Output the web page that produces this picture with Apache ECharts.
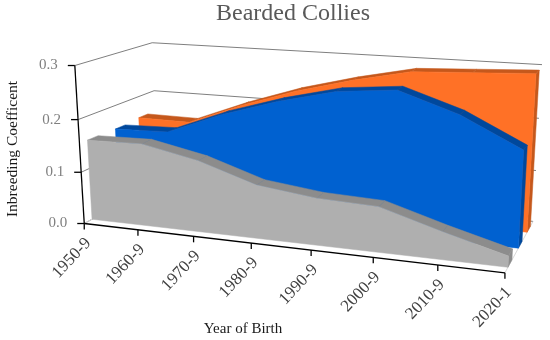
<!DOCTYPE html>
<html>
<head>
<meta charset="utf-8">
<style>html,body{margin:0;padding:0;background:#fff}#c{width:550px;height:340px}</style>
<script src="https://cdn.jsdelivr.net/npm/echarts@6/dist/echarts.min.js"></script>
</head>
<body>
<div id="c"></div>
<script>
const categories = ['1950-9','1960-9','1970-9','1980-9','1990-9','2000-9','2010-9','2020-1'];
const yTicks = [0, 0.1, 0.2, 0.3];
const greyValues   = [0.155, 0.157, 0.135, 0.100, 0.087, 0.083, 0.050, 0.020];
const blueValues   = [0.154, 0.157, 0.199, 0.232, 0.258, 0.268, 0.232, 0.178];
const orangeValues = [0.157, 0.156, 0.198, 0.234, 0.262, 0.285, 0.290, 0.295];

// Oblique camera: [u, w, depth] -> screen, u/w being the position in the plain grid
const cameraAnchors = [
  [0,0,0, 84,222],[1,0,0, 505,274],[0,1,0, 75,66],[0,0,1, 158,185],
  [1,0,1, 533,220],[1,1,1, 542,65],[0,1,1, 152,42]
];
function solveCamera(a){
  const rows=[],rhs=[];
  a.forEach(([x,y,z,sx,sy])=>{
    rows.push([x,y,z,1,0,0,0,0,-sx*x,-sx*y,-sx*z]);rhs.push(sx);
    rows.push([0,0,0,0,x,y,z,1,-sy*x,-sy*y,-sy*z]);rhs.push(sy);
  });
  const n=11,M=[];
  for(let i=0;i<n;i++){M.push([]);for(let j=0;j<=n;j++){let s=0;
    rows.forEach((r,k)=>{s+=r[i]*(j<n?r[j]:rhs[k]);});M[i].push(s);}}
  for(let i=0;i<n;i++){
    let p=i;for(let k=i+1;k<n;k++)if(Math.abs(M[k][i])>Math.abs(M[p][i]))p=k;
    [M[i],M[p]]=[M[p],M[i]];
    for(let k=0;k<n;k++){if(k===i)continue;const f=M[k][i]/M[i][i];
      for(let j=i;j<=n;j++)M[k][j]-=f*M[i][j];}
  }
  return M.map((r,i)=>r[n]/r[i]);
}
const cam = solveCamera(cameraAnchors);
const W=550,H=340;
function project(api,i,v,z){
  const c=api.coord([i,v]);const u=c[0]/W,w=1-c[1]/H;
  const d=cam[8]*u+cam[9]*w+cam[10]*z+1;
  return [(cam[0]*u+cam[1]*w+cam[2]*z+cam[3])/d,(cam[4]*u+cam[5]*w+cam[6]*z+cam[7])/d];
}
const last=categories.length-1;
const poly=(pts,fill)=>({type:'polygon',shape:{points:pts},style:{fill,stroke:fill,lineWidth:0.5}});
const line=(a,b,stroke,lineWidth)=>({type:'line',shape:{x1:a[0],y1:a[1],x2:b[0],y2:b[1]},style:{stroke,lineWidth,fill:null}});

function areaSeries(name,values,z1,z2,face,dark){
  return {type:'custom',name,coordinateSystem:'cartesian2d',data:[0],silent:true,
    renderItem(p,api){
      const kids=[];
      for(let i=0;i<last;i++){
        kids.push(poly([project(api,i,values[i],z1),project(api,i+1,values[i+1],z1),
                        project(api,i+1,values[i+1],z2),project(api,i,values[i],z2)],dark));
      }
      kids.push(poly([project(api,last,values[last],z1),project(api,last,values[last],z2),
                      project(api,last,0,z2),project(api,last,0,z1)],dark));
      const pts=values.map((v,i)=>project(api,i,v,z1));
      pts.push(project(api,last,0,z1),project(api,0,0,z1));
      kids.push(poly(pts,face));
      return {type:'group',children:kids};
    }};
}
const wallSeries={type:'custom',coordinateSystem:'cartesian2d',data:[0],silent:true,
  renderItem(p,api){
    const kids=[];
    yTicks.forEach(t=>{
      kids.push(line(project(api,0,t,0),project(api,0,t,1),'#7f7f7f',1));
      kids.push(line(project(api,0,t,1),project(api,last,t,1),'#7f7f7f',1));
    });
    kids.push(line(project(api,0,0,0),project(api,0,0,1),'#d9d9d9',1));
    kids.push(line(project(api,last,0,0),project(api,last,0,1),'#d9d9d9',1));
    return {type:'group',children:kids};
  }};
const axisSeries={type:'custom',coordinateSystem:'cartesian2d',data:[0],silent:true,
  renderItem(p,api){
    const kids=[];
    kids.push(line(project(api,0,0,0),project(api,0,yTicks[yTicks.length-1],0),'#000',1.3));
    kids.push(line(project(api,0,0,0),project(api,last,0,0),'#000',1.3));
    yTicks.forEach(t=>{
      const a=project(api,0,t,0);
      kids.push(line([a[0]-7,a[1]],a,'#000',1.3));
      kids.push({type:'text',x:a[0]-17,y:a[1],style:{text:t.toFixed(1),align:'right',verticalAlign:'middle',
        font:'15px "Liberation Serif"',fill:'#7f7f7f'}});
    });
    categories.forEach((c,i)=>{
      const a=project(api,i,0,0);
      kids.push(line(a,[a[0],a[1]+6],'#000',1.3));
      kids.push({type:'text',x:a[0]+4,y:a[1]+17,rotation:Math.PI*0.26,style:{text:c,align:'right',verticalAlign:'middle',
        font:'17px "Liberation Serif"',fill:'#404040'}});
    });
    kids.push({type:'text',x:13,y:149,rotation:Math.PI/2,style:{text:'Inbreeding Coefficent',align:'center',verticalAlign:'middle',
      font:'15.5px "Liberation Serif"',fill:'#1a1a1a'}});
    kids.push({type:'text',x:243,y:329,style:{text:'Year of Birth',align:'center',verticalAlign:'middle',
      font:'15px "Liberation Serif"',fill:'#1a1a1a'}});
    return {type:'group',children:kids};
  }};

echarts.init(document.getElementById('c'),null,{renderer:'canvas'}).setOption({
  animation:false,
  backgroundColor:'#fff',
  title:{text:'Bearded Collies',left:288,top:-3,textAlign:'center',
    textStyle:{fontFamily:'Liberation Serif',fontSize:24,fontWeight:'normal',color:'#595959'}},
  grid:{left:0,top:0,width:W,height:H},
  xAxis:{type:'category',data:categories,boundaryGap:false,show:false},
  yAxis:{type:'value',min:0,max:0.3,interval:0.1,show:false},
  series:[
    wallSeries,
    areaSeries('Orange',orangeValues,0.765,0.895,'#ff7126','#c5581c'),
    areaSeries('Blue',blueValues,0.445,0.575,'#0061d0','#00489c'),
    areaSeries('Grey',greyValues,0.095,0.225,'#afafaf','#8c8c8c'),
    axisSeries
  ]
});
</script>
</body>
</html>
